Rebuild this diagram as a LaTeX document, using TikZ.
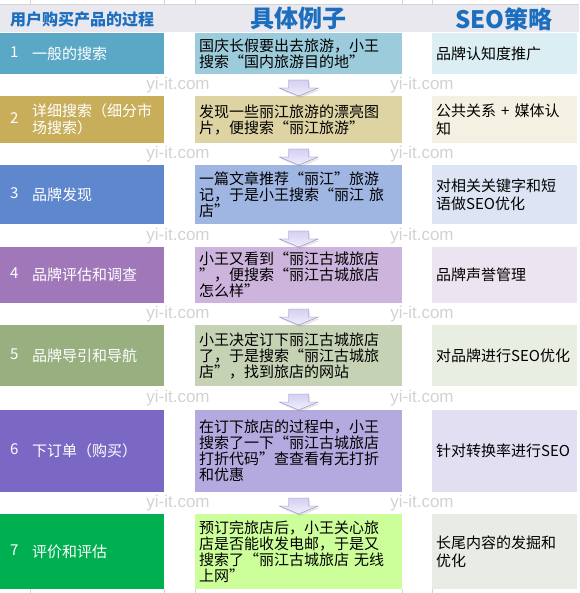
\documentclass[tikz,border=0pt]{standalone}
\usepackage{fontspec}
\setmainfont{Noto Sans CJK SC}
\newfontfamily\markfont{Liberation Sans}
\usepackage{xcolor}
\usepackage{tikz}
\usetikzlibrary{positioning,shadows}

\definecolor{headblue}{RGB}{28,110,190}
\definecolor{headgray}{RGB}{232,232,238}
\definecolor{gridgray}{RGB}{212,212,212}
\definecolor{arrowline}{RGB}{140,132,192}
\definecolor{arrowtop}{RGB}{212,208,242}
\definecolor{arrowbot}{RGB}{240,238,252}
% stage / example / seo colours per row
\definecolor{ra1}{RGB}{91,168,198}   \definecolor{rb1}{RGB}{156,203,219}  \definecolor{rc1}{RGB}{219,238,244}
\definecolor{ra2}{RGB}{200,174,90}   \definecolor{rb2}{RGB}{222,212,163}  \definecolor{rc2}{RGB}{245,241,226}
\definecolor{ra3}{RGB}{95,135,205}   \definecolor{rb3}{RGB}{160,182,226}  \definecolor{rc3}{RGB}{221,229,245}
\definecolor{ra4}{RGB}{160,120,185}  \definecolor{rb4}{RGB}{205,180,220}  \definecolor{rc4}{RGB}{236,228,240}
\definecolor{ra5}{RGB}{152,175,128}  \definecolor{rb5}{RGB}{197,210,180}  \definecolor{rc5}{RGB}{232,238,226}
\definecolor{ra6}{RGB}{122,104,196}  \definecolor{rb6}{RGB}{181,170,224}  \definecolor{rc6}{RGB}{226,223,243}
\definecolor{ra7}{RGB}{0,176,80}     \definecolor{rb7}{RGB}{204,255,153}  \definecolor{rc7}{RGB}{232,236,228}

\newcommand{\stagelabel}[2]{\makebox[22pt][l]{#1}\parbox[c]{122pt}{\raggedright #2}}

\begin{document}
\begin{tikzpicture}[
    x=1pt, y=-1pt,
    cell/.style={rectangle, anchor=north west, inner ysep=2pt},
    stagecell/.style={cell, text=white, inner xsep=10pt, text width=144pt, font=\fontsize{15}{17}\selectfont},
    examplecell/.style={cell, inner xsep=4pt, text width=199pt, align=left, font=\fontsize{15}{16}\selectfont},
    seocell/.style={cell, inner xsep=4pt, text width=137pt, align=left, font=\fontsize{15}{18}\selectfont},
    headtext/.style={text=headblue, font=\bfseries\fontsize{24}{26}\selectfont},
    downarrow/.style={draw=arrowline, line join=miter, top color=arrowtop, bottom color=arrowbot,
        drop shadow={opacity=0.2, shadow xshift=1.5pt, shadow yshift=-2pt}},
    watermark/.style={text=gray!35, font=\markfont\fontsize{17}{17}\selectfont},
    gridline/.style={draw=gridgray, line width=0.6pt}
]
\useasboundingbox (0,0) rectangle (579,593);

% Sheet grid and header band
\fill[headgray] (0,4) rectangle (579,32);
\draw[gridline] (0,4) -- (579,4);
\foreach \x in {30,164,195,402,432} {
    \draw[gridline] (\x,0) -- (\x,4);
    \draw[gridline] (\x,589) -- (\x,593);
}

% Watermarks
\foreach \y in {85,154,236,314,398,503} {
    \node[watermark] (wl\y) at (178,\y) {yi-it.com};
    \node[watermark] (wr\y) at (422,\y) {yi-it.com};
}

% Header
\node[text=headblue, font=\bfseries\fontsize{16}{18}\selectfont] (h1) at (82,19) {用户购买产品的过程};
\node[headtext] (h2) at (298,18) {具体例子};
\node[headtext] (h3) at (504,19) {SEO策略};

% Row 1
\node[stagecell, fill=ra1, minimum height=41pt] (s1) at (0,33) {\stagelabel{1}{一般的搜索}};
\node[examplecell, fill=rb1, minimum height=41pt] (m1) at (195,33) {国庆长假要出去旅游，小王\\搜索“国内旅游目的地”};
\node[seocell, fill=rc1, minimum height=41pt] (e1) at (432,33) {品牌认知度推广};

% Row 2
\node[stagecell, fill=ra2, minimum height=47pt] (s2) at (0,96) {\stagelabel{2}{详细搜索（细分市\\场搜索）}};
\node[examplecell, fill=rb2, minimum height=47pt] (m2) at (195,96) {发现一些丽江旅游的漂亮图\\片，便搜索“丽江旅游”};
\node[seocell, fill=rc2, minimum height=47pt] (e2) at (432,96) {公共关系 + 媒体认\\知};

% Row 3
\node[stagecell, fill=ra3, minimum height=59pt] (s3) at (0,165) {\stagelabel{3}{品牌发现}};
\node[examplecell, fill=rb3, minimum height=59pt] (m3) at (195,165) {一篇文章推荐“丽江”旅游\\记，于是小王搜索“丽江 旅\\店”};
\node[seocell, fill=rc3, minimum height=59pt] (e3) at (432,165) {对相关关键字和短\\语做SEO优化};

% Row 4
\node[stagecell, fill=ra4, minimum height=56pt] (s4) at (0,247) {\stagelabel{4}{品牌评估和调查}};
\node[examplecell, fill=rb4, minimum height=56pt] (m4) at (195,247) {小王又看到“丽江古城旅店\\”，便搜索“丽江古城旅店\\怎么样”};
\node[seocell, fill=rc4, minimum height=56pt] (e4) at (432,247) {品牌声誉管理};

% Row 5
\node[stagecell, fill=ra5, minimum height=61pt] (s5) at (0,325) {\stagelabel{5}{品牌导引和导航}};
\node[examplecell, fill=rb5, minimum height=61pt] (m5) at (195,325) {小王决定订下丽江古城旅店\\了，于是搜索“丽江古城旅\\店”，找到旅店的网站};
\node[seocell, fill=rc5, minimum height=61pt] (e5) at (432,325) {对品牌进行SEO优化};

% Row 6
\node[stagecell, fill=ra6, minimum height=82pt] (s6) at (0,410) {\stagelabel{6}{下订单（购买）}};
\node[examplecell, fill=rb6, minimum height=82pt] (m6) at (195,410) {在订下旅店的过程中，小王\\搜索了一下“丽江古城旅店\\打折代码”查查看有无打折\\和优惠};
\node[seocell, fill=rc6, minimum height=82pt] (e6) at (432,410) {针对转换率进行SEO};

% Row 7
\node[stagecell, fill=ra7, minimum height=75pt] (s7) at (0,514) {\stagelabel{7}{评价和评估}};
\node[examplecell, fill=rb7, minimum height=75pt] (m7) at (195,514) {预订完旅店后，小王关心旅\\店是否能收发电邮，于是又\\搜索了“丽江古城旅店 无线\\上网”};
\node[seocell, fill=rc7, minimum height=75pt] (e7) at (432,514) {长尾内容的发掘和\\优化};

% Block arrows between the examples, tip on the next box
\foreach \i [count=\j from 2] in {1,...,6}
    \draw[downarrow] ([xshift=-10pt, yshift=16pt]m\j.north) -- ++(20,0) -- ++(0,8) -- ++(9.5,0)
        -- ++(-19.5,8) -- ++(-19.5,-8) -- ++(9.5,0) -- cycle;

\end{tikzpicture}
\end{document}
